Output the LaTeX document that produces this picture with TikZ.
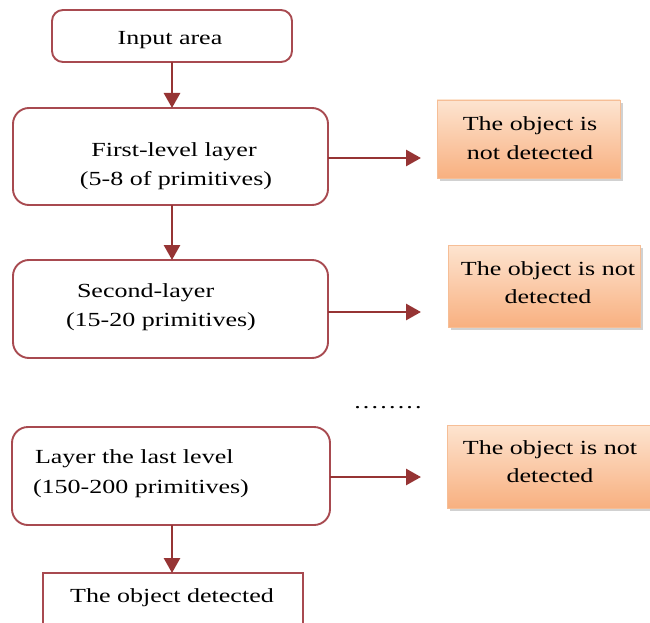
\documentclass[tikz,border=0pt]{standalone}
\usepackage{fontspec}
\setmainfont[FakeStretch=1.3]{Liberation Serif}
\usetikzlibrary{arrows.meta,shadows}
\definecolor{boxred}{RGB}{168,74,80}
\definecolor{arrowred}{RGB}{150,52,52}
\definecolor{peachlight}{RGB}{253,228,208}
\definecolor{peachdark}{RGB}{248,176,128}
\definecolor{peachline}{RGB}{246,190,150}
\newcommand{\dd}{.\hspace{2.2pt}}
\begin{document}
\begin{tikzpicture}[x=1pt,y={(0pt,-1pt)},
  every node/.style={inner sep=0pt,outer sep=0pt},
  txt/.style={font=\fontsize{20}{28}\selectfont,text=black,anchor=base},
  layerbox/.style={draw=boxred,line width=1.9pt,rounded corners=16pt,anchor=north west},
  inbox/.style={draw=boxred,line width=1.9pt,rounded corners=11pt,anchor=north west},
  endbox/.style={draw=boxred,line width=1.9pt,anchor=north west},
  notbox/.style={draw=peachline,line width=0.8pt,top color=peachlight,bottom color=peachdark,anchor=north west,
    drop shadow={shadow xshift=2.5pt,shadow yshift=-3pt,opacity=0.3,fill=black!60}},
  flow/.style={draw=arrowred,line width=2.8pt,-{Triangle[width=16pt,length=15pt]}}]
\useasboundingbox (0,0) rectangle (650,623);
% boxes
\node[inbox,minimum width=240pt,minimum height=52pt] (input) at (52,10) {};
\node[layerbox,minimum width=315pt,minimum height=97pt] (first) at (13,108) {};
\node[layerbox,minimum width=315pt,minimum height=98pt] (second) at (13,260) {};
\node[layerbox,minimum width=318pt,minimum height=98pt] (last) at (12,427) {};
\node[endbox,minimum width=260pt,minimum height=80pt] (det) at (43,573) {};
\node[notbox,minimum width=183pt,minimum height=78pt] (n1) at (437,100) {};
\node[notbox,minimum width=192pt,minimum height=82pt] (n2) at (448,245) {};
\node[notbox,minimum width=215pt,minimum height=83pt] (n3) at (447,425) {};
% texts
\node[txt] (tin) at (170,45) {Input area};
\node[txt] (tf1) at (174,157) {First-level layer};
\node[txt] (tf2) at (176,185) {(5-8 of primitives)};
\node[txt,anchor=base west] (ts1) at (77,297) {Second-layer};
\node[txt,anchor=base west] (ts2) at (66,326) {(15-20 primitives)};
\node[txt,anchor=base west] (tl1) at (35,463) {Layer the last level};
\node[txt,anchor=base west] (tl2) at (33,493) {(150-200 primitives)};
\node[txt] (td) at (172,602) {The object detected};
\node[txt] (tn11) at (530,131) {The object is};
\node[txt] (tn12) at (530,159) {not detected};
\node[txt] (tn21) at (548,275) {The object is not};
\node[txt] (tn22) at (548,303) {detected};
\node[txt] (tn31) at (550,454) {The object is not};
\node[txt] (tn32) at (550,482) {detected};
\node[txt] (dots) at (388,408) {\dd\dd\dd\dd\dd\dd\dd.};
% arrow end points
\coordinate (r1) at (421,158);
\coordinate (r2) at (421,312);
\coordinate (r3) at (421,477);
% connectors
\draw[flow] (input.south) -- (input.south |- first.north);
\draw[flow] (first.south -| input.south) -- (input.south |- second.north);
\draw[flow] (last.south -| input.south) -- (input.south |- det.north);
\draw[flow] (first.east |- r1) -- (r1);
\draw[flow] (second.east |- r2) -- (r2);
\draw[flow] (last.east |- r3) -- (r3);
\end{tikzpicture}
\end{document}
